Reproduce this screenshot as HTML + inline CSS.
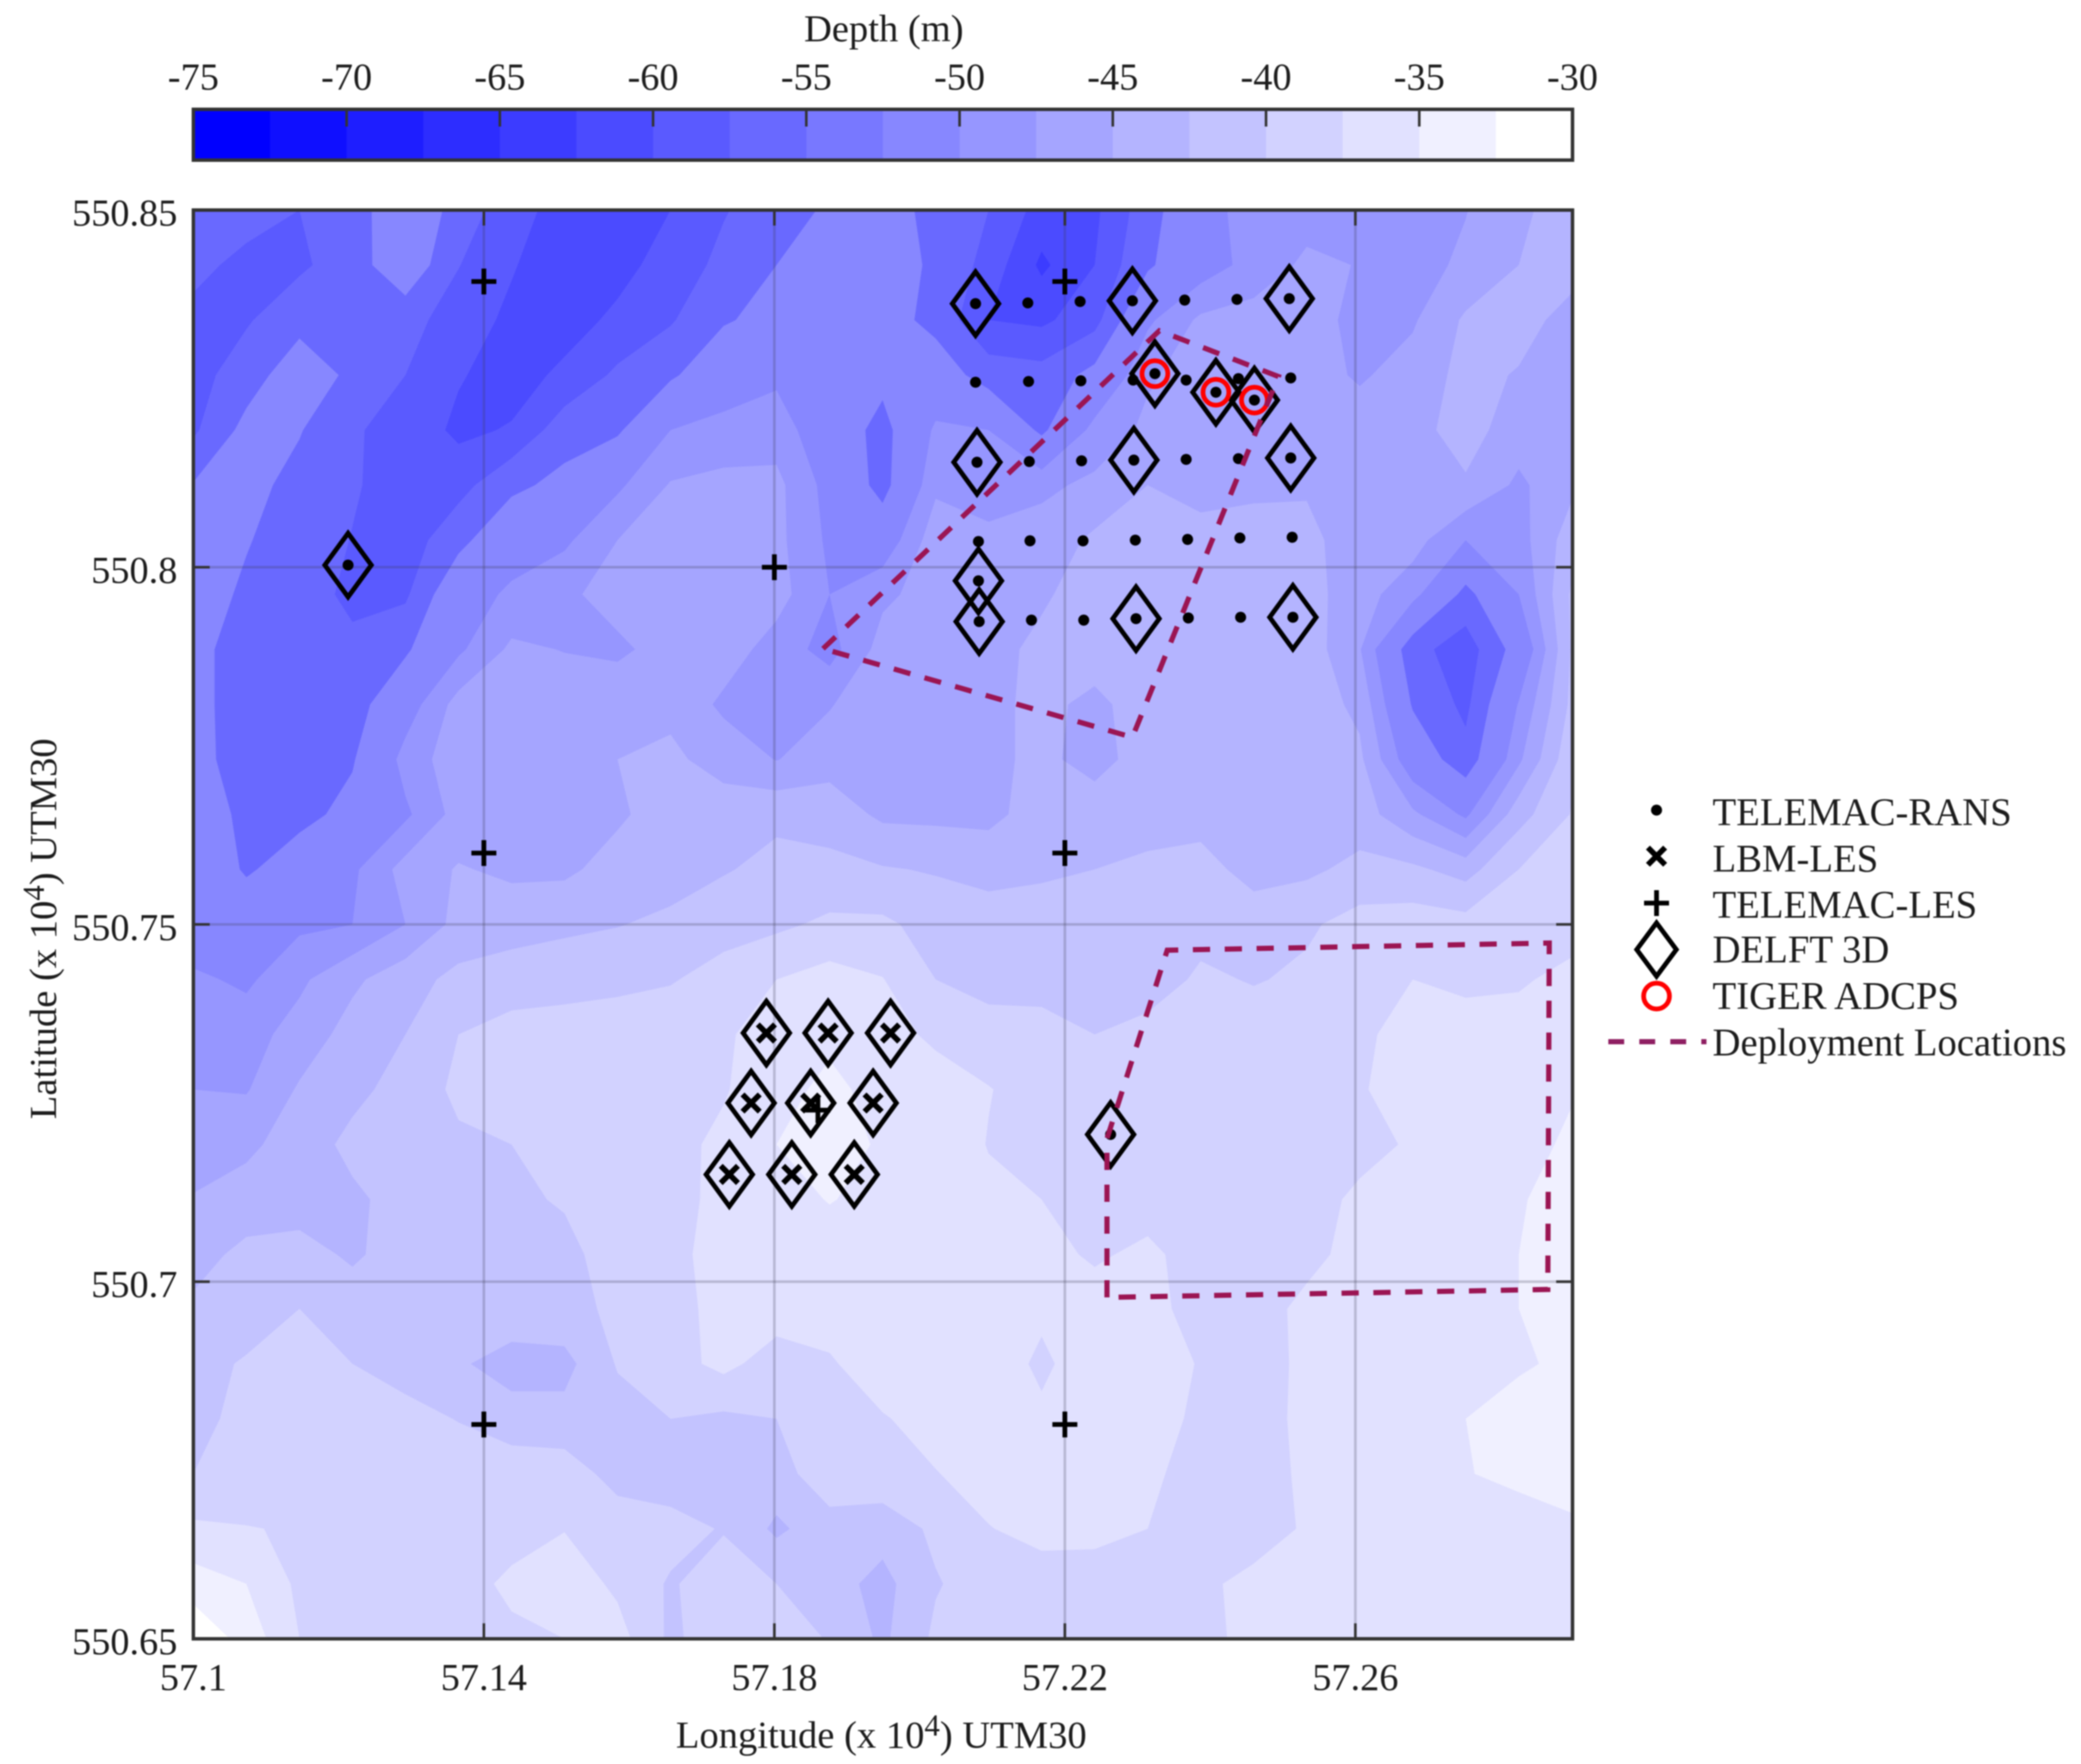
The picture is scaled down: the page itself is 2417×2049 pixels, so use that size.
<!DOCTYPE html>
<html lang="en">
<head>
<meta charset="utf-8">
<title>Depth contour map with deployment locations</title>
<style>
html,body{margin:0;padding:0;background:#fff;}
svg{display:block;filter:blur(0.7px);}
text{font-family:"Liberation Serif",serif;fill:#1c1c1c;font-size:44.5px;}
</style>
</head>
<body>
<svg id="chart" xmlns="http://www.w3.org/2000/svg" width="2417" height="2049" viewBox="0 0 2417 2049">
  <rect x="0" y="0" width="2417" height="2049" fill="#ffffff"/>
</svg>
<script>
const gridLon = [57.1,57.1073,57.1146,57.1219,57.1292,57.1365,57.1438,57.1511,57.1584,57.1657,57.173,57.1803,57.1876,57.1949,57.2022,57.2095,57.2168,57.2241,57.2314,57.2387,57.246,57.2533,57.2606,57.2679,57.2752,57.2825,57.2899];
const gridLat = [550.85,550.8423,550.8346,550.8269,550.8192,550.8115,550.8038,550.7962,550.7885,550.7808,550.7731,550.7654,550.7577,550.75,550.7423,550.7346,550.7269,550.7192,550.7115,550.7038,550.6962,550.6885,550.6808,550.6731,550.6654,550.6577,550.65];
const depthGrid = [
[-56,-56,-57.5,-56.5,-51,-56,-59,-61,-61.5,-60,-57.7,-56,-54,-53,-55.5,-57.5,-61,-60.5,-56,-51,-49,-48.5,-48.5,-48,-47.6,-45.4,-44],
[-56.5,-58.5,-58,-56,-52,-57.4,-59.8,-61.5,-60.8,-59,-56.8,-54.5,-53,-53,-55,-58.5,-63,-60,-55,-51.5,-49,-47,-47.6,-48.5,-47,-45,-44],
[-58.5,-57.8,-55.5,-56,-56.5,-58.8,-60.5,-61,-59.5,-57.8,-54.8,-53.5,-53,-53,-55.5,-60,-60.5,-58.5,-50.5,-47,-46.5,-46.5,-48.2,-47.8,-44.6,-44,-46],
[-58.6,-56,-52.5,-55.2,-57.5,-59.8,-61,-59.5,-57,-55,-52,-50.5,-50,-53.5,-52.5,-56,-56.5,-53.5,-47.8,-46.5,-46,-46.5,-47.8,-46.5,-44.2,-45.2,-46.5],
[-58,-53.5,-54.3,-57.2,-58.5,-60.5,-59.8,-56,-55,-50,-49,-48.7,-52,-55.7,-49.5,-50,-55.2,-49,-47,-46.8,-46.5,-46.5,-46.3,-45.8,-44,-46.3,-46],
[-54.3,-53.5,-55.5,-57.2,-58.8,-58.5,-55.3,-53.5,-50.5,-47.3,-46.8,-46.8,-51,-55.7,-48,-48.5,-48,-47,-45,-46,-45.5,-45.2,-46,-46.3,-45.3,-48,-45.5],
[-53,-54.3,-56,-57.6,-59,-55.5,-51.5,-50.5,-47.5,-46.5,-46.5,-46.8,-50.5,-52,-46,-47,-46.5,-44.5,-44,-44,-44,-44.5,-46,-46.5,-50,-48.6,-43.5],
[-53,-55,-56.5,-58,-58,-51.5,-49.5,-48,-46.5,-46.2,-46.2,-46.5,-50,-48,-46.5,-46,-45.3,-44,-43.8,-44,-44,-44,-46.5,-49,-55.5,-50,-42],
[-53.5,-56,-57,-57,-55,-50.5,-47,-47.6,-48,-46.5,-46.2,-48.6,-51,-46.5,-46,-45.7,-44.5,-44,-44,-43.8,-43.7,-43.6,-47.3,-56.5,-59,-53,-42],
[-53.5,-56,-56.5,-56,-51.5,-46.5,-46,-46,-45.8,-45.6,-48,-48.5,-47.7,-45.5,-45.5,-45.5,-44.5,-45.5,-44,-43.5,-43.5,-43.6,-45.6,-54.8,-58.2,-49.8,-41.8],
[-53,-56.5,-56.5,-54.8,-49,-46,-46,-46,-45,-44.5,-46,-47.6,-46,-45.5,-45.5,-45.5,-44.5,-45.8,-44,-43.5,-43.5,-43.6,-44.5,-52,-56.5,-48,-40.5],
[-52,-55.5,-55.5,-53.5,-50.5,-46.5,-46,-46,-45.4,-43.8,-43.7,-43,-43.6,-45.5,-45.6,-45.6,-44,-43.8,-43.5,-43.5,-43.5,-43.5,-43.8,-47,-50.5,-43.5,-39.8],
[-51,-55,-52.5,-50.5,-46.5,-44.8,-45.5,-45.5,-44,-43.5,-42.7,-41.8,-41.8,-42.3,-42.7,-43.5,-43,-42.5,-42,-41.5,-43.5,-43,-41.8,-42,-43.5,-40,-38.8],
[-52,-51.5,-50.5,-50,-47.5,-44.2,-43.5,-43,-42.6,-42,-41,-40.5,-39.5,-39.5,-41,-41,-41,-41,-41,-41,-41,-40.4,-39,-38.7,-39,-38.7,-38.5],
[-49.5,-50.5,-48,-45.5,-43.5,-41.8,-41.3,-41,-40.7,-40.2,-39,-37.5,-36.5,-37.4,-40,-41,-41,-41.3,-41.5,-39.5,-40.2,-39.5,-38.5,-37.5,-38,-37.8,-36.8],
[-48.5,-48.5,-46.5,-44,-42.5,-40,-39,-38.8,-38.5,-38.4,-37.8,-36.5,-35.6,-36.5,-38,-38.8,-39,-40,-39,-38.5,-38.5,-38.5,-38,-36.5,-36.5,-36.5,-36],
[-47.5,-47.7,-44.7,-43.2,-41.5,-39.5,-38.5,-38.2,-38,-38,-37.7,-36,-34.3,-36,-36.3,-37.4,-38.5,-38.5,-38.5,-38.5,-38.5,-38.5,-37.7,-36.5,-36,-36,-35.2],
[-46.5,-45.5,-43.9,-41.8,-41,-40.4,-40,-39,-38.5,-38.2,-37,-35,-34,-35.3,-36,-37.6,-38.5,-38.7,-38.7,-38.7,-38.7,-38.7,-38.3,-37.2,-36,-36,-34.5],
[-44.8,-44,-44,-43,-41.5,-40.5,-40.2,-39.9,-39.2,-38.5,-36.7,-35.8,-34.9,-35.6,-36,-37,-37.5,-38.5,-38.5,-38.5,-38.5,-38.5,-37,-36.2,-36,-35.2,-34],
[-43.5,-41.8,-41.3,-43,-41,-41,-41,-40.3,-39.5,-38,-36.8,-36,-36,-36,-36,-36.2,-36.8,-37.8,-37,-38.5,-39,-38.3,-36.5,-36.3,-36,-35,-34],
[-42,-41.5,-40,-40.8,-41,-41,-41,-40.8,-39.5,-38.6,-36.5,-36.3,-36.3,-36.3,-36.3,-36.5,-37,-36.5,-36.5,-38.7,-38.7,-36.8,-36.2,-36.2,-36.2,-35,-34.2],
[-41,-39.7,-39,-40,-41,-42.2,-43.5,-43.3,-39.8,-38.5,-36.8,-38.7,-37.8,-36,-36,-36,-38,-36,-36,-37.7,-38.5,-37,-36.3,-36.3,-36.3,-35.3,-34.5],
[-40.5,-39.5,-39,-39,-39.2,-40.1,-41.5,-41.7,-41,-40,-40.5,-40,-38.5,-37.7,-36.5,-36,-37,-36,-36,-38.2,-38.7,-36.8,-36.3,-36,-35,-34,-34],
[-40,-39,-38.7,-38.7,-38.6,-38.6,-38.4,-38.6,-41,-41.5,-41.5,-41,-38.5,-38.3,-37.6,-36.5,-36,-36,-37,-38.5,-38.7,-37,-36.4,-36,-35.1,-34.5,-34],
[-37,-37.4,-37.7,-38,-38.3,-38.5,-38.5,-37.6,-38.5,-39,-40.2,-43,-41,-41.5,-39.5,-37.6,-36.7,-36.8,-37.5,-38.5,-38.7,-37.2,-36.5,-36.2,-36.3,-36,-35.4],
[-33.8,-35,-38,-38.5,-38.5,-38.5,-37,-36,-38,-40.3,-38.5,-40,-41.5,-43.3,-40.2,-38.8,-38.7,-38.7,-38.7,-38,-36.8,-36.3,-36.3,-36.2,-36.2,-36.2,-36.2],
[-30.3,-33.5,-37.5,-38.7,-39,-38.5,-38,-37.5,-36.5,-40.5,-38.5,-38.5,-40.2,-43,-39.5,-38.7,-38.7,-38.7,-38.7,-38,-37,-36.3,-36.3,-36.3,-36.3,-36.3,-36.3]
];
const contourLevels = [-30,-32.5,-35,-37.5,-40,-42.5,-45,-47.5,-50,-54.5,-57.5,-60,-62.5,-65];
const colorbarLevels = [-75,-72.5,-70,-67.5,-65,-62.5,-60,-57.5,-55,-52.5,-50,-47.5,-45,-42.5,-40,-37.5,-35,-32.5,-30];
const colorbarTicks = [-75,-70,-65,-60,-55,-50,-45,-40,-35,-30];
const lonTicks = [57.1,57.14,57.18,57.22,57.26];
const lonTickLabels = ["57.1","57.14","57.18","57.22","57.26"];
const latTicks = [550.85,550.8,550.75,550.7,550.65];
const latTickLabels = ["550.85","550.8","550.75","550.7","550.65"];
const ransPoints = [
[57.2077,550.8369],[57.2149,550.837],[57.2221,550.8372],[57.2293,550.8373],[57.2365,550.8374],[57.2437,550.8375],[57.2509,550.8376],
[57.2077,550.8259],[57.215,550.826],[57.2222,550.8261],[57.2294,550.8262],[57.2367,550.8262],[57.2439,550.8264],[57.2511,550.8265],
[57.2079,550.8147],[57.2151,550.8148],[57.2223,550.8149],[57.2295,550.815],[57.2367,550.8151],[57.2439,550.8152],[57.2511,550.8153],
[57.2081,550.8036],[57.2152,550.8037],[57.2225,550.8037],[57.2297,550.8038],[57.2369,550.8039],[57.2441,550.8041],[57.2513,550.8042],
[57.2082,550.7924],[57.2154,550.7926],[57.2226,550.7926],[57.2298,550.7928],[57.237,550.7929],[57.2442,550.793],[57.2514,550.793],
[57.2081,550.7981],[57.2324,550.8271],[57.2408,550.8245],[57.2461,550.8234],[57.1213,550.8003],[57.2263,550.7206]
];
const lbmPoints = [
[57.1789,550.7348],[57.1874,550.7348],[57.196,550.7348],
[57.1768,550.725],[57.185,550.725],[57.1936,550.725],
[57.1738,550.715],[57.1824,550.715],[57.191,550.715]
];
const lesPoints = [[57.14,550.84],[57.22,550.84],[57.18,550.8],[57.14,550.76],[57.22,550.76],[57.14,550.68],[57.22,550.68],[57.186,550.724]];
const delftPoints = [
[57.2077,550.8369],[57.2293,550.8373],[57.2509,550.8376],
[57.2079,550.8147],[57.2295,550.815],[57.2511,550.8153],
[57.2082,550.7924],[57.2298,550.7928],[57.2514,550.793],
[57.2081,550.7981],[57.2324,550.8271],[57.2408,550.8245],[57.2461,550.8234],
[57.1213,550.8003],[57.2263,550.7206],
[57.1789,550.7348],[57.1874,550.7348],[57.196,550.7348],
[57.1768,550.725],[57.185,550.725],[57.1936,550.725],
[57.1738,550.715],[57.1824,550.715],[57.191,550.715]
];
const adcpPoints = [[57.2324,550.8271],[57.2408,550.8245],[57.2461,550.8234]];
const deploymentNorth = [[57.1867,550.7886],[57.233,550.8331],[57.2494,550.8267],[57.2293,550.7762],[57.1867,550.7886]];
const deploymentSouth = [[57.2258,550.6978],[57.2258,550.7200],[57.2341,550.7464],[57.2867,550.7474],[57.2865,550.6989],[57.2258,550.6978]];
const legendLabels = ["TELEMAC-RANS","LBM-LES","TELEMAC-LES","DELFT 3D","TIGER ADCPS","Deployment Locations"];

const NS = "http://www.w3.org/2000/svg";
const svg = document.getElementById("chart");
const PLOT = {left:224.6, right:1826.4, top:244, bottom:1903.6};
const BAR = {left:224.6, right:1826.4, top:127, bottom:186};
function xScale(lon){ return PLOT.left + (lon - 57.1) * (PLOT.right - PLOT.left) / (gridLon[gridLon.length-1] - 57.1); }
function yScale(lat){ return PLOT.top + (550.85 - lat) * (PLOT.bottom - PLOT.top) / 0.2; }
function barScale(d){ return BAR.left + (d + 75) * (BAR.right - BAR.left) / 45; }
function depthColor(d){
  const k = Math.max(0, Math.min(17, Math.floor((d + 75) / 2.5)));
  const c = (15 * k).toString(16).padStart(2, "0");
  return "#" + c + c + "ff";
}
function mk(tag, attrs, parent){
  const el = document.createElementNS(NS, tag);
  for (const key in attrs) el.setAttribute(key, attrs[key]);
  (parent || svg).appendChild(el);
  return el;
}
function cellPath(threshold){
  let d = "";
  for (let j = 0; j < gridLat.length - 1; j++){
    for (let i = 0; i < gridLon.length - 1; i++){
      const corners = [
        [xScale(gridLon[i]), yScale(gridLat[j]), depthGrid[j][i]],
        [xScale(gridLon[i+1]), yScale(gridLat[j]), depthGrid[j][i+1]],
        [xScale(gridLon[i+1]), yScale(gridLat[j+1]), depthGrid[j+1][i+1]],
        [xScale(gridLon[i]), yScale(gridLat[j+1]), depthGrid[j+1][i]]
      ];
      const out = [];
      for (let n = 0; n < 4; n++){
        const a = corners[n], b = corners[(n+1)%4];
        const ai = a[2] < threshold, bi = b[2] < threshold;
        if (ai) out.push([a[0], a[1]]);
        if (ai !== bi){
          const f = (threshold - a[2]) / (b[2] - a[2]);
          out.push([a[0] + f*(b[0]-a[0]), a[1] + f*(b[1]-a[1])]);
        }
      }
      if (out.length > 2){
        d += "M" + out.map(p => p[0].toFixed(1) + " " + p[1].toFixed(1)).join("L") + "Z";
      }
    }
  }
  return d;
}

/* contour fill */
const contourBase = mk("rect", {x:PLOT.left, y:PLOT.top, width:PLOT.right-PLOT.left, height:PLOT.bottom-PLOT.top, fill:"#ffffff"});


for (let n = 1; n < contourLevels.length; n++){
  const upper = contourLevels[n];
  const lower = n + 1 < contourLevels.length ? contourLevels[n+1] : upper - 2.5;
  const band = mk("path", {d:cellPath(upper), fill:depthColor((upper + lower) / 2)});
  
  
}

/* grid lines */
lonTicks.forEach(function(t){
  if (t === lonTicks[0]) return;
  const line = mk("line", {x1:xScale(t), x2:xScale(t), y1:PLOT.top, y2:PLOT.bottom, stroke:"#3a3a50", "stroke-opacity":"0.25", "stroke-width":"3"});
  
  
});
latTicks.forEach(function(t){
  if (t === latTicks[0] || t === latTicks[latTicks.length-1]) return;
  const line = mk("line", {x1:PLOT.left, x2:PLOT.right, y1:yScale(t), y2:yScale(t), stroke:"#3a3a50", "stroke-opacity":"0.25", "stroke-width":"3"});
  
  
});

/* axes frame and ticks */
const frame = mk("rect", {x:PLOT.left, y:PLOT.top, width:PLOT.right-PLOT.left, height:PLOT.bottom-PLOT.top, fill:"none", stroke:"#333333", "stroke-width":"4"});


lonTicks.forEach(function(t, i){
  if (i === 0) return;
  const bottomTick = mk("line", {x1:xScale(t), x2:xScale(t), y1:PLOT.bottom, y2:PLOT.bottom-18, stroke:"#333333", "stroke-width":"3"});
  
  
  const topTick = mk("line", {x1:xScale(t), x2:xScale(t), y1:PLOT.top, y2:PLOT.top+18, stroke:"#333333", "stroke-width":"3"});
  
  
});
lonTicks.forEach(function(t, i){
  const label = mk("text", {x:xScale(t), y:1963, "text-anchor":"middle"});
  label.textContent = lonTickLabels[i];
  
  
});
latTicks.forEach(function(t, i){
  if (i > 0 && i < latTicks.length - 1){
    const leftTick = mk("line", {x1:PLOT.left, x2:PLOT.left+19, y1:yScale(t), y2:yScale(t), stroke:"#333333", "stroke-width":"3"});
    
    
    const rightTick = mk("line", {x1:PLOT.right, x2:PLOT.right-19, y1:yScale(t), y2:yScale(t), stroke:"#333333", "stroke-width":"3"});
    
    
  }
  const label = mk("text", {x:206, y:yScale(t)+18, "text-anchor":"end"});
  label.textContent = latTickLabels[i];
  
  
});

/* colorbar */
for (let n = 0; n < colorbarLevels.length - 1; n++){
  const a = colorbarLevels[n], b = colorbarLevels[n+1];
  const cell = mk("rect", {x:barScale(a), y:BAR.top, width:barScale(b)-barScale(a)+0.6, height:BAR.bottom-BAR.top, fill:depthColor((a+b)/2)});
  
  
}
const barFrame = mk("rect", {x:BAR.left, y:BAR.top, width:BAR.right-BAR.left, height:BAR.bottom-BAR.top, fill:"none", stroke:"#333333", "stroke-width":"4"});


colorbarTicks.forEach(function(t, i){
  if (i > 0 && i < colorbarTicks.length - 1){
    const tick = mk("line", {x1:barScale(t), x2:barScale(t), y1:BAR.top, y2:BAR.top+20, stroke:"#333333", "stroke-width":"3"});
    
    
  }
  const label = mk("text", {x:barScale(t), y:104, "text-anchor":"middle"});
  label.textContent = String(t);
  
  
});

/* marker glyphs */
function drawDiamond(cx, cy, hw, hh, parentName){
  const el = mk("polygon", {points:[[cx,cy-hh],[cx+hw,cy],[cx,cy+hh],[cx-hw,cy]].map(p=>p.join(",")).join(" "), fill:"none", stroke:"#000000", "stroke-width":"5.5"});
  
  
}
function drawDot(cx, cy, parentName){
  const el = mk("circle", {cx:cx, cy:cy, r:6.4, fill:"#000000"});
  
  
}
function drawPlus(cx, cy, parentName){
  const el = mk("path", {d:"M"+(cx-14.5)+" "+cy+"H"+(cx+14.5)+"M"+cx+" "+(cy-15)+"V"+(cy+15), fill:"none", stroke:"#000000", "stroke-width":"5.5"});
  
  
}
function drawCross(cx, cy, parentName){
  const el = mk("path", {d:"M"+(cx-10)+" "+(cy-10)+"L"+(cx+10)+" "+(cy+10)+"M"+(cx+10)+" "+(cy-10)+"L"+(cx-10)+" "+(cy+10), fill:"none", stroke:"#000000", "stroke-width":"6.5"});
  
  
}
function drawRing(cx, cy, r, parentName){
  const el = mk("circle", {cx:cx, cy:cy, r:r, fill:"none", stroke:"#ff0000", "stroke-width":"5.5"});
  
  
}

/* series */
ransPoints.forEach(p => drawDot(xScale(p[0]), yScale(p[1]), 'telemac-rans-point'));
lbmPoints.forEach(p => drawCross(xScale(p[0]), yScale(p[1]), 'lbm-les-point'));
lesPoints.forEach(p => drawPlus(xScale(p[0]), yScale(p[1]), 'telemac-les-point'));
delftPoints.forEach(p => drawDiamond(xScale(p[0]), yScale(p[1]), 27, 37, 'delft-3d-point'));
adcpPoints.forEach(p => drawRing(xScale(p[0]), yScale(p[1]), 15, 'tiger-adcp-point'));

function polylineD(points){
  return "M" + points.map(p => xScale(p[0]).toFixed(1) + " " + yScale(p[1]).toFixed(1)).join("L");
}
const northArea = mk("path", {d:polylineD(deploymentNorth), fill:"none", stroke:"#9b1553", "stroke-width":"6", "stroke-dasharray":"20 17"});


const southArea = mk("path", {d:polylineD(deploymentSouth), fill:"none", stroke:"#9b1553", "stroke-width":"6", "stroke-dasharray":"20 17"});



/* legend */
const legendBaselines = [958.5,1012.5,1066,1118,1172,1226];
legendLabels.forEach(function(name, i){
  const label = mk("text", {x:1989, y:legendBaselines[i], style:"font-size:45px"});
  label.textContent = name;
  
  
});
drawDot(1924, 941, 'legend-rans-marker');
drawCross(1924, 994.5, 'legend-lbm-marker');
drawPlus(1924, 1049, 'legend-les-marker');
drawDiamond(1924, 1103, 23, 31, 'legend-delft-marker');
drawRing(1924, 1157, 15, 'legend-adcp-marker');
const legendDash = mk("line", {x1:1868, x2:1982, y1:1210, y2:1210, stroke:"#8f1f62", "stroke-width":"6", "stroke-dasharray":"18.4 17.6"});


</script>
<svg xmlns="http://www.w3.org/2000/svg" width="2417" height="2049" viewBox="0 0 2417 2049" style="position:absolute;left:0;top:0;pointer-events:none;">
  <text x="1026.5" y="48" text-anchor="middle" style="font-size:44.8px">Depth (m)</text>
  <text x="785" y="2030" style="font-size:44.8px">Longitude (x 10<tspan dy="-14" style="font-size:36px">4</tspan><tspan dy="14">) UTM30</tspan></text>
  <text transform="translate(65,1300) rotate(-90)" x="0" y="0" style="font-size:44.8px">Latitude (x 10<tspan dy="-14" style="font-size:36px">4</tspan><tspan dy="14">) UTM30</tspan></text>
</svg>
</body>
</html>
